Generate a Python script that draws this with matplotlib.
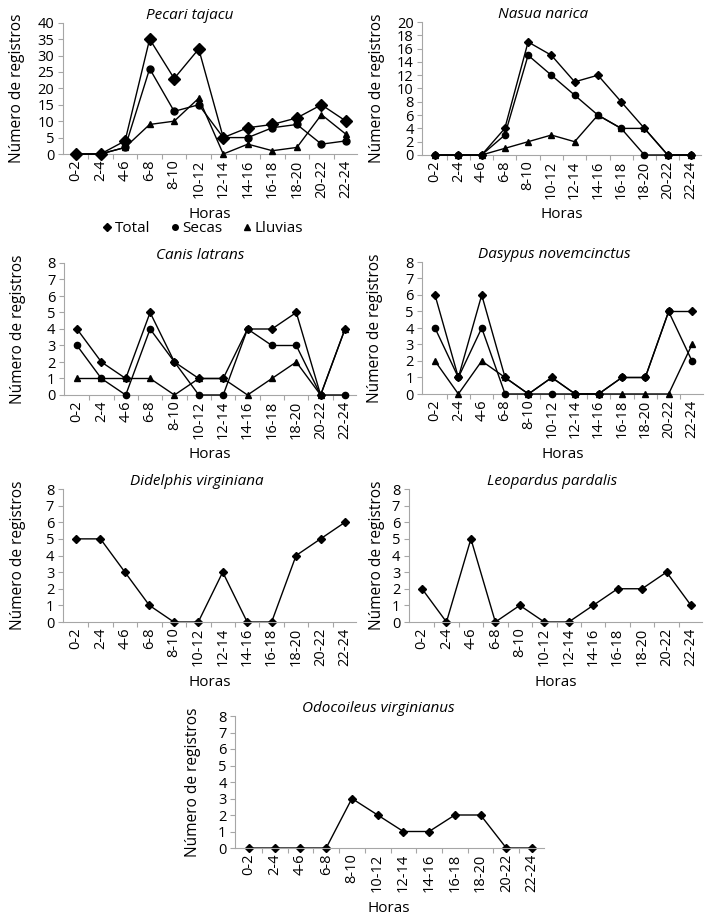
import matplotlib
matplotlib.use("Agg")
import matplotlib.pyplot as plt
from matplotlib.lines import Line2D
import numpy as np

plt.rcParams['font.family'] = ['Open Sans', 'DejaVu Sans']

horas = ['0-2', '2-4', '4-6', '6-8', '8-10', '10-12', '12-14',
         '14-16', '16-18', '18-20', '20-22', '22-24']

# Pecari tajacu
pecari_total = [0, 0, 4, 35, 23, 32, 5, 8, 9, 11, 15, 10]
pecari_secas = [0, 0, 2, 26, 13, 15, 5, 5, 8, 9, 3, 4]
pecari_lluvias = [0, 0, 2, 9, 10, 17, 0, 3, 1, 2, 12, 6]

# Nasua narica
nasua_total = [0, 0, 0, 4, 17, 15, 11, 12, 8, 4, 0, 0]
nasua_secas = [0, 0, 0, 3, 15, 12, 9, 6, 4, 0, 0, 0]
nasua_lluvias = [0, 0, 0, 1, 2, 3, 2, 6, 4, 4, 0, 0]

# Canis latrans
canis_total = [4, 2, 1, 5, 2, 1, 1, 4, 4, 5, 0, 4]
canis_secas = [3, 1, 0, 4, 2, 0, 0, 4, 3, 3, 0, 0]
canis_lluvias = [1, 1, 1, 1, 0, 1, 1, 0, 1, 2, 0, 4]

# Dasypus novemcinctus
dasypus_total = [6, 1, 6, 1, 0, 1, 0, 0, 1, 1, 5, 5]
dasypus_secas = [4, 1, 4, 0, 0, 0, 0, 0, 1, 1, 5, 2]
dasypus_lluvias = [2, 0, 2, 1, 0, 1, 0, 0, 0, 0, 0, 3]

# una sola serie
didelphis = [5, 5, 3, 1, 0, 0, 3, 0, 0, 4, 5, 6]
leopardus = [2, 0, 5, 0, 1, 0, 0, 1, 2, 2, 3, 1]
odocoileus = [0, 0, 0, 0, 3, 2, 1, 1, 2, 2, 0, 0]

W, H = 718, 922
fig = plt.figure(figsize=(W / 100, H / 100), dpi=100)

AXC = '#a6a6a6'


def make_ax(first_tick, last_tick, top, bottom, ymax, ystep, title, title_x, ylab_off):
    sp = (last_tick - first_tick) / 11.0
    left = first_tick - 0.55 * sp
    right = last_tick + 0.45 * sp
    w = right - left
    h = bottom - top
    ax = fig.add_axes([left / W, 1 - bottom / H, w / W, h / H])
    ax.set_xlim(-0.55, 11.45)
    ax.set_ylim(0, ymax)
    for s in ['top', 'right']:
        ax.spines[s].set_visible(False)
    for s in ['left', 'bottom']:
        ax.spines[s].set_color(AXC)
        ax.spines[s].set_linewidth(0.8)
    ax.set_yticks(np.arange(0, ymax + 0.1, ystep))
    ax.tick_params(axis='y', colors=AXC, length=3.5, width=0.8, labelsize=10.5,
                   labelcolor='black', pad=2.5)
    ax.set_xticks(range(12))
    ax.set_xticklabels(horas, rotation=90, fontsize=10.5)
    ax.set_xticks(np.arange(0.5, 11, 1), minor=True)
    ax.tick_params(axis='x', which='major', length=0, pad=4)
    ax.tick_params(axis='x', which='minor', colors=AXC, length=3.5, width=0.8)
    ax.set_title(title, fontsize=11, style='italic', pad=1, x=(title_x - left) / w)
    ax.set_xlabel('Horas', fontsize=11, va='center')
    ax.xaxis.set_label_coords(0.5, -60 / h)
    ax.set_ylabel('Número de registros', fontsize=11.2, va='center')
    ax.yaxis.set_label_coords(-ylab_off / w, 0.5)
    return ax


def three(ax, total, secas, lluvias, big=False):
    x = range(12)
    ax.plot(x, total, color='black', lw=1.0, marker='D', ms=6 if big else 4.5, clip_on=False, zorder=3)
    ax.plot(x, secas, color='black', lw=1.0, marker='o', ms=5 if big else 4.5, clip_on=False, zorder=3)
    ax.plot(x, lluvias, color='black', lw=1.0, marker='^', ms=5, clip_on=False, zorder=3)


ax1 = make_ax(76, 346, 22.7, 154, 40, 5, 'Pecari tajacu', 190, 45)
three(ax1, pecari_total, pecari_secas, pecari_lluvias, big=True)
handles = [Line2D([], [], ls='none', marker='D', color='black', ms=4),
           Line2D([], [], ls='none', marker='o', color='black', ms=4),
           Line2D([], [], ls='none', marker='^', color='black', ms=4)]
fig.legend(handles, ['Total', 'Secas', 'Lluvias'], loc='center', ncol=3,
           bbox_to_anchor=(202 / W, 1 - 229 / H), frameon=False, fontsize=11,
           handletextpad=0.1, columnspacing=1.2, handlelength=0.8, borderpad=0)

ax2 = make_ax(435, 691, 22, 155, 20, 2, 'Nasua narica', 543, 45)
three(ax2, nasua_total, nasua_secas, nasua_lluvias)

ax3 = make_ax(77, 345, 263, 395, 8, 1, 'Canis latrans', 200, 46)
three(ax3, canis_total, canis_secas, canis_lluvias)

ax4 = make_ax(435, 692, 262, 394, 8, 1, 'Dasypus novemcinctus', 554, 47)
three(ax4, dasypus_total, dasypus_secas, dasypus_lluvias)

ax5 = make_ax(76, 345, 489, 622, 8, 1, 'Didelphis virginiana', 197, 45)
ax5.plot(range(12), didelphis, color='black', lw=1.0, marker='D', ms=4.5, clip_on=False)

ax6 = make_ax(422, 691, 489, 622, 8, 1, 'Leopardus pardalis', 552, 31.5)
ax6.plot(range(12), leopardus, color='black', lw=1.0, marker='D', ms=4.5, clip_on=False)

ax7 = make_ax(249, 532, 716, 848, 8, 1, 'Odocoileus virginianus', 378, 42)
ax7.plot(range(12), odocoileus, color='black', lw=1.0, marker='D', ms=4.5, clip_on=False)

fig.savefig('out.png', dpi=100)
